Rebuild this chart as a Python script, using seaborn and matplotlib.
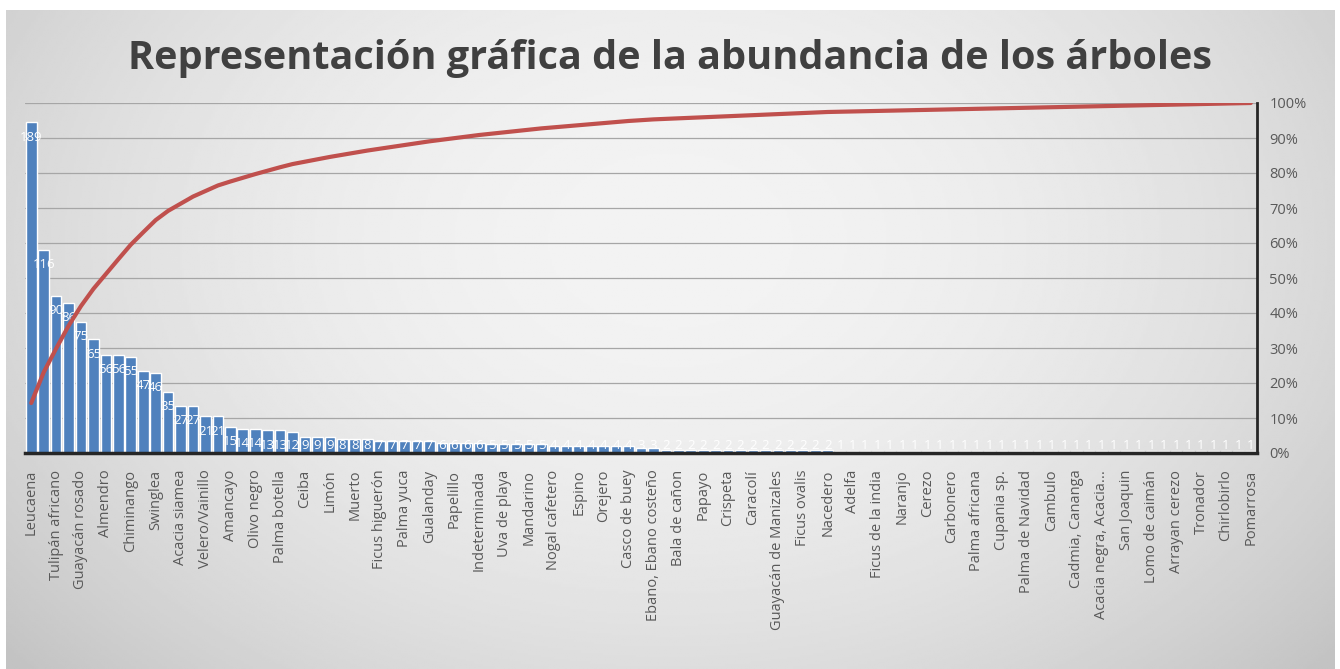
import numpy as np
import pandas as pd
import seaborn as sns
import matplotlib.pyplot as plt
from matplotlib.ticker import PercentFormatter

# species shown on the axis (Excel only labels every other bar)
etiquetas = ["Leucaena", "Tulipán africano", "Guayacán rosado", "Almendro", "Chiminango",
             "Swinglea", "Acacia siamea", "Velero/Vainillo", "Amancayo", "Olivo negro",
             "Palma botella", "Ceiba", "Limón", "Muerto", "Ficus higuerón", "Palma yuca",
             "Gualanday", "Papelillo", "Indeterminada", "Uva de playa", "Mandarino",
             "Nogal cafetero", "Espino", "Orejero", "Casco de buey", "Ebano, Ebano costeño",
             "Bala de cañon", "Papayo", "Crispeta", "Caracolí", "Guayacán de Manizales",
             "Ficus ovalis", "Nacedero", "Adelfa", "Ficus de la india", "Naranjo", "Cerezo",
             "Carbonero", "Palma africana", "Cupania sp.", "Palma de Navidad", "Cambulo",
             "Cadmia, Cananga", "Acacia negra, Acacia...", "San Joaquin", "Lomo de caimán",
             "Arrayan cerezo", "Tronador", "Chirlobirlo", "Pomarrosa"]

# number of trees per species, sorted (99 species)
conteos = [189, 116, 90, 86, 75, 65, 56, 56, 55, 47, 46, 35, 27, 27, 21, 21, 15, 14, 14, 13,
           13, 12, 9, 9, 9, 8, 8, 8, 7, 7, 7, 7, 7, 6, 6, 6, 6, 5, 5, 5,
           5, 5, 4, 4, 4, 4, 4, 4, 4, 3, 3, 2, 2, 2, 2, 2, 2, 2, 2, 2,
           2, 2, 2, 2, 2, 1, 1, 1, 1, 1, 1, 1, 1, 1, 1, 1, 1, 1, 1, 1,
           1, 1, 1, 1, 1, 1, 1, 1, 1, 1, 1, 1, 1, 1, 1, 1, 1, 1, 1]

titulo = "Representación gráfica de la abundancia de los árboles"

df = pd.DataFrame({"pos": np.arange(len(conteos)), "conteo": conteos})
df["acumulado"] = df["conteo"].cumsum() / df["conteo"].sum()

sns.set_style("white")
plt.rcParams["font.family"] = ["Open Sans", "DejaVu Sans"]

fig = plt.figure(figsize=(13.4, 6.69), dpi=100, facecolor="white")

# gray gradient chart area
bg = fig.add_axes([6 / 1340, 0, 1329 / 1340, 659 / 669], zorder=-10)
yy, xx = np.mgrid[0:1:300j, 0:1:600j]
r = np.sqrt(((xx - 0.5) / 0.62) ** 2 + ((yy - 0.35) / 0.9) ** 2)
bg.imshow(np.clip(243 - 42 * r ** 2, 195, 245), cmap="gray", vmin=0, vmax=255,
          aspect="auto", extent=(0, 1, 0, 1), origin="upper")
bg.axis("off")

ax = fig.add_axes([25 / 1340, (669 - 453) / 669, 1232 / 1340, 350 / 669])
ax.set_facecolor("none")
sns.barplot(data=df, x="pos", y="conteo", color="#4F81BD", width=0.85,
            saturation=1, ax=ax, zorder=2)
ax.set_xlim(-0.5, len(conteos) - 0.5)
ax.set_ylim(0, 200)
ax.set_yticks(np.arange(0, 201, 20))
ax.set_yticklabels([])
ax.yaxis.grid(True, color="#a6a6a6", lw=0.9, zorder=0)
ax.set_axisbelow(True)
ax.tick_params(axis="y", length=0)
ax.set_xticks(np.arange(0, len(conteos), 2))
ax.set_xticklabels(etiquetas, rotation=90, fontsize=10.5, color="#595959")
ax.tick_params(axis="x", length=0, pad=12)
ax.set_xlabel("")
ax.set_ylabel("")
for s in ["top", "left", "right"]:
    ax.spines[s].set_visible(False)
ax.spines["bottom"].set_color("#262626")
ax.spines["bottom"].set_linewidth(2.5)

for p, v in zip(df["pos"], df["conteo"]):
    ax.text(p, max(v - 8.5, 4.5), str(v), ha="center", va="center",
            color="white", fontsize=9.5, zorder=3)

ax2 = ax.twinx()
sns.lineplot(data=df, x="pos", y="acumulado", color="#C0504D", lw=3, ax=ax2)
ax2.set_ylim(0, 1)
ax2.set_yticks(np.arange(0, 1.01, 0.1))
ax2.yaxis.set_major_formatter(PercentFormatter(1.0, decimals=0))
ax2.tick_params(axis="y", length=0, pad=9, labelsize=10.5, labelcolor="#595959")
ax2.set_ylabel("")
ax2.set_xlabel("")
for s in ["top", "left", "bottom"]:
    ax2.spines[s].set_visible(False)
ax2.spines["right"].set_color("#262626")
ax2.spines["right"].set_linewidth(2)
ax2.set_xlim(-0.5, len(conteos) - 0.5)

fig.text(0.5, 1 - 58 / 669, titulo, ha="center", va="center",
         fontsize=28.5, fontweight="bold", color="#404040")

fig.savefig("out.png", dpi=100, facecolor="white")
